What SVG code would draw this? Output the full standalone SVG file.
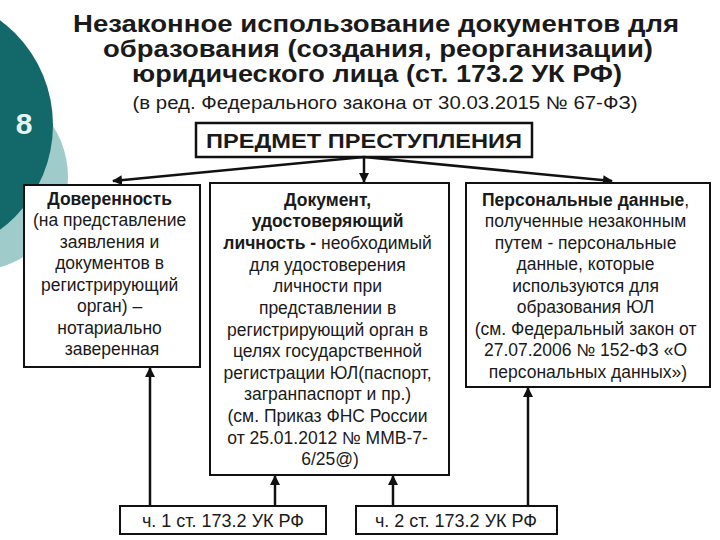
<svg xmlns="http://www.w3.org/2000/svg" width="720" height="540" viewBox="0 0 720 540">
<defs>
<marker id="ah" viewBox="0 0 10 10" refX="9" refY="5" markerWidth="4" markerHeight="4" orient="auto" markerUnits="strokeWidth">
<path d="M0,0 L10,5 L0,10 z" fill="#111"/>
</marker>
<style>
.t{font-family:"Liberation Sans",Arial,sans-serif;fill:#1a1a1a}
.title{font-size:23.5px;font-weight:bold;text-anchor:middle}
.sub{font-size:18px;text-anchor:middle}
.bx{fill:#fff;stroke:#111;stroke-width:2}
.body{font-size:17.5px;text-anchor:middle}
.b{font-weight:bold}
.con{stroke:#111;stroke-width:2.5;fill:none;marker-end:url(#ah)}
</style>
</defs>
<rect width="720" height="540" fill="#fff"/>
<g id="decor">
<circle cx="-26" cy="177" r="94" fill="#a0cbcb"/>
<circle cx="-77" cy="125" r="130" fill="#13696a"/>
<text x="24" y="134" class="t" style="font-size:30px;font-weight:bold;fill:#e6f3f3;text-anchor:middle">8</text>
</g>
<g id="title">
<text x="376" y="32" class="t title" textLength="606" lengthAdjust="spacingAndGlyphs">Незаконное использование документов для</text>
<text x="378" y="57" class="t title" textLength="550" lengthAdjust="spacingAndGlyphs">образования (создания, реорганизации)</text>
<text x="377" y="82" class="t title" textLength="490" lengthAdjust="spacingAndGlyphs">юридического лица (ст. 173.2 УК РФ)</text>
<text x="385" y="109" class="t sub" textLength="505" lengthAdjust="spacingAndGlyphs">(в ред. Федерального закона от 30.03.2015 № 67-ФЗ)</text>
</g>
<g id="subject">
<rect x="196" y="123" width="336" height="34" class="bx" style="stroke-width:2.5"/>
<text x="364" y="148" class="t" style="font-size:20px;font-weight:bold;text-anchor:middle" textLength="316" lengthAdjust="spacingAndGlyphs">ПРЕДМЕТ ПРЕСТУПЛЕНИЯ</text>
</g>
<g id="connectors">
<line x1="364" y1="157" x2="113" y2="181" class="con"/>
<line x1="364" y1="157" x2="364" y2="182" class="con"/>
<line x1="364" y1="157" x2="612" y2="181" class="con"/>
<line x1="150" y1="506" x2="150" y2="368" class="con"/>
<line x1="275" y1="506" x2="275" y2="476" class="con"/>
<line x1="393" y1="506" x2="393" y2="476" class="con"/>
<line x1="528" y1="506" x2="528" y2="388" class="con"/>
</g>
<g id="proxy">
<rect x="24" y="185" width="176" height="182" class="bx"/>
<text class="t body">
<tspan x="112" y="205" class="b">Доверенность</tspan>
<tspan x="112" y="226">(на представление</tspan>
<tspan x="112" y="248">заявления и</tspan>
<tspan x="112" y="269">документов в</tspan>
<tspan x="112" y="291">регистрирующий</tspan>
<tspan x="112" y="312">орган) –</tspan>
<tspan x="112" y="334">нотариально</tspan>
<tspan x="112" y="355">заверенная</tspan>
</text>
</g>
<g id="identity">
<rect x="210" y="183" width="239" height="292" class="bx"/>
<text class="t body">
<tspan x="330" y="206" class="b">Документ,</tspan>
<tspan x="330" y="227" class="b">удостоверяющий</tspan>
<tspan x="330" y="249"><tspan class="b">личность -</tspan> необходимый</tspan>
<tspan x="330" y="271">для удостоверения</tspan>
<tspan x="330" y="292">личности при</tspan>
<tspan x="330" y="314">представлении в</tspan>
<tspan x="330" y="336">регистрирующий орган в</tspan>
<tspan x="330" y="357">целях государственной</tspan>
<tspan x="330" y="379">регистрации ЮЛ(паспорт,</tspan>
<tspan x="330" y="400">загранпаспорт и пр.)</tspan>
<tspan x="330" y="422">(см. Приказ ФНС России</tspan>
<tspan x="330" y="444">от 25.01.2012 № ММВ-7-</tspan>
<tspan x="330" y="465">6/25@)</tspan>
</text>
</g>
<g id="personal">
<rect x="466" y="183" width="244" height="204" class="bx"/>
<text class="t body">
<tspan x="588" y="206"><tspan class="b">Персональные данные</tspan>,</tspan>
<tspan x="588" y="227">полученные незаконным</tspan>
<tspan x="588" y="249">путем  - персональные</tspan>
<tspan x="588" y="270">данные, которые</tspan>
<tspan x="588" y="292">используются для</tspan>
<tspan x="588" y="313">образования ЮЛ</tspan>
<tspan x="588" y="335">(см. Федеральный закон от</tspan>
<tspan x="588" y="356">27.07.2006 № 152-ФЗ «О</tspan>
<tspan x="588" y="378">персональных данных»)</tspan>
</text>
</g>
<g id="part1">
<rect x="120" y="506" width="206" height="28" class="bx"/>
<text x="223" y="527" class="t body" style="font-size:18px">ч. 1 ст. 173.2 УК РФ</text>
</g>
<g id="part2">
<rect x="356" y="506" width="201" height="28" class="bx"/>
<text x="456" y="527" class="t body" style="font-size:18px">ч. 2 ст. 173.2 УК РФ</text>
</g>
</svg>
